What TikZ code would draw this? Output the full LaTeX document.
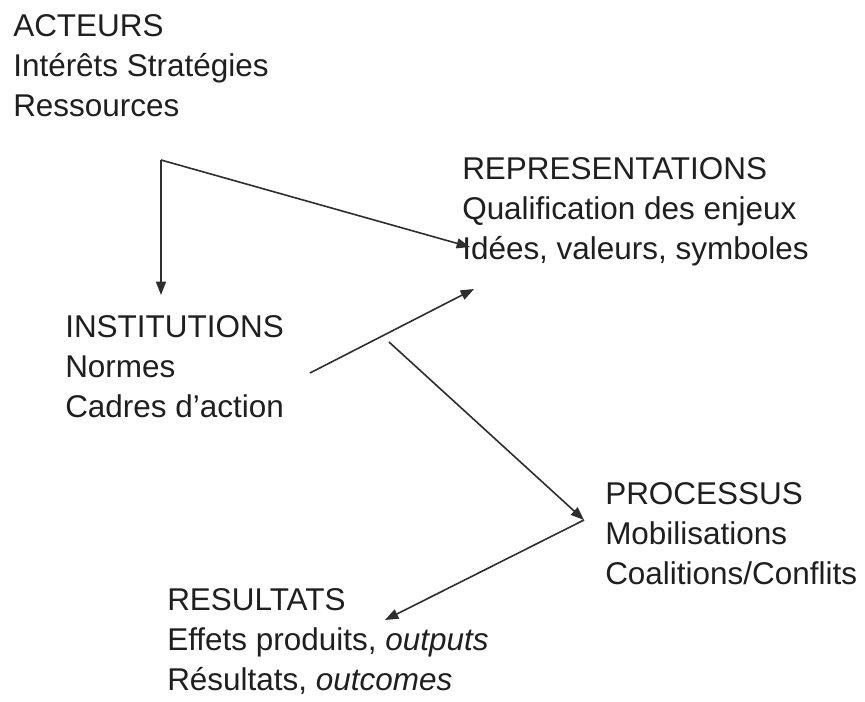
\documentclass[tikz,border=0pt]{standalone}
\usepackage{fontspec}
\setmainfont{Liberation Sans}
\usetikzlibrary{arrows.meta}
\begin{document}
\begin{tikzpicture}[x=0.75pt,y=-0.75pt,
  lbl/.style={anchor=base west, align=left, inner sep=0pt,
    font=\fontsize{23.6}{30}\selectfont, text=black!88},
  conn/.style={draw=black!82, line width=1.2pt,
    -{Triangle[length=10pt,width=7.5pt]}}]
\useasboundingbox[fill=white] (0,0) rectangle (865,702);
% text blocks (anchor = baseline of last line)
\node[lbl] (acteurs) at (13,117) {ACTEURS\\Intérêts Stratégies\\Ressources};
\node[lbl] (repr) at (462,260) {REPRESENTATIONS\\Qualification des enjeux\\Idées, valeurs, symboles};
\node[lbl] (inst) at (65,418) {INSTITUTIONS\\Normes\\Cadres d'action};
\node[lbl] (proc) at (605,585) {PROCESSUS\\Mobilisations\\Coalitions/Conflits};
\node[lbl] (res) at (167,690) {RESULTATS\\Effets produits, \textit{outputs}\\Résultats, \textit{outcomes}};
% connector end points
\coordinate (corner) at (161,160);
\coordinate (instTop) at (161,295);
\coordinate (reprIdees) at (470,247);
\coordinate (instOut) at (310,373);
\coordinate (reprLow) at (474,289);
\coordinate (midStart) at (389,342);
\coordinate (procIn) at (584,520);
\coordinate (resIn) at (385,620);
% connectors
\draw[conn] (corner) -- (instTop);
\draw[conn] (corner) -- (reprIdees);
\draw[conn] (instOut) -- (reprLow);
\draw[conn] (midStart) -- (procIn);
\draw[conn] (procIn) -- (resIn);
\end{tikzpicture}
\end{document}
